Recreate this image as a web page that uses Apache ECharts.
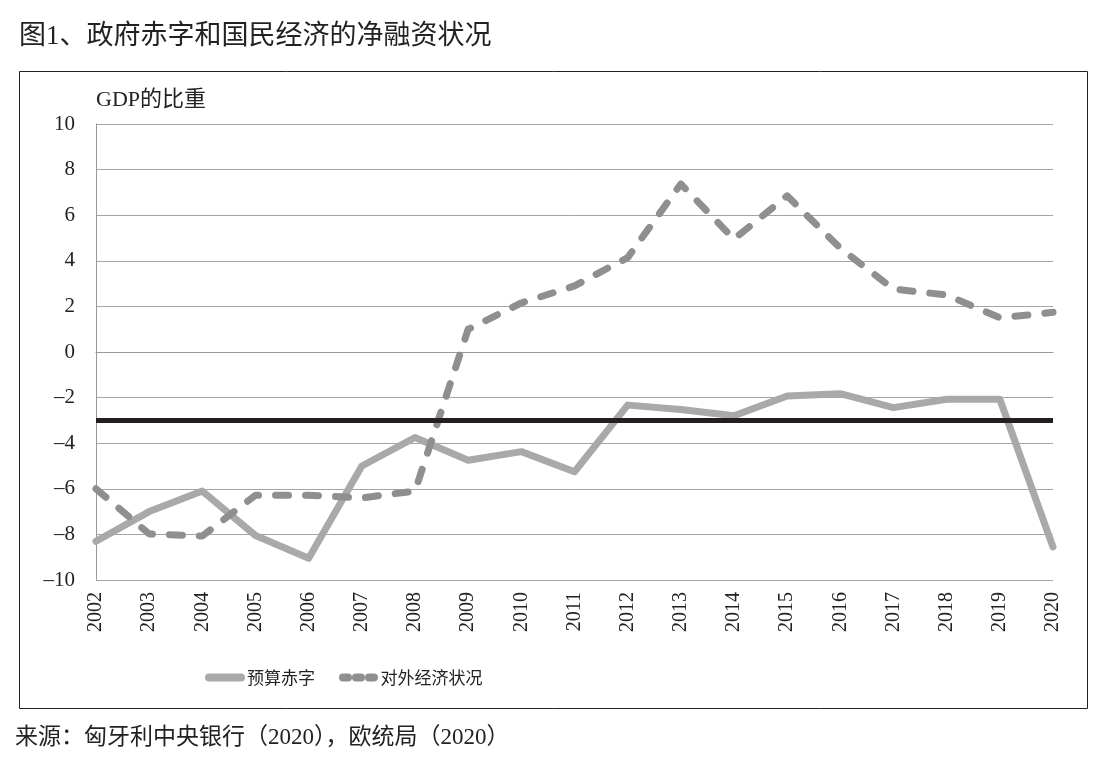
<!DOCTYPE html>
<html>
<head>
<meta charset="utf-8">
<script src="https://cdn.jsdelivr.net/npm/echarts@6/dist/echarts.min.js"></script>
<style>
  html, body { margin: 0; padding: 0; background: #fff; }
  #chart { width: 1104px; height: 771px; }
</style>
</head>
<body>
<div id="chart"></div>
<script>
// 数据
var years = ["2002", "2003", "2004", "2005", "2006", "2007", "2008", "2009", "2010", "2011",
  "2012", "2013", "2014", "2015", "2016", "2017", "2018", "2019", "2020"];
// 预算赤字
var budgetDeficit = [-8.3, -7.0, -6.1, -8.05, -9.05, -5.0, -3.75, -4.75, -4.37, -5.25,
  -2.33, -2.52, -2.8, -1.93, -1.83, -2.44, -2.07, -2.07, -8.55];
// 对外经济状况
var externalBalance = [-6.0, -7.98, -8.07, -6.28, -6.28, -6.4, -6.1, 1.0, 2.15, 2.9,
  4.14, 7.37, 4.95, 6.85, 4.55, 2.76, 2.5, 1.5, 1.74];
var thresholdLevel = -3;
var yTicks = { min: -10, max: 10, step: 2 };

var serif = "'Liberation Serif', 'DejaVu Serif', 'Noto Sans CJK SC', serif";
var cjk = "'Noto Sans CJK SC', sans-serif";

// 图例图标
var solidIcon = "path://M4,0H36A4,4 0 0 1 36,8H4A4,4 0 0 1 4,0Z";
var dashIcon = "path://M3,0H8A3,3 0 0 1 8,8H3A3,3 0 0 1 3,0Z M16,0H21A3,3 0 0 1 21,8H16A3,3 0 0 1 16,0Z M29,0H34A3,3 0 0 1 34,8H29A3,3 0 0 1 29,0Z";

var myCharts = echarts.init(document.getElementById("chart"));

var option = {
  backgroundColor: "#fff",
  animation: false,
  // 外框、标题、来源
  graphic: [
    {
      type: "rect",
      left: 17, top: 69,
      shape: { width: 1068, height: 637 },
      style: { fill: "none", stroke: "#222", lineWidth: 1 },
    },
    {
      type: "text",
      left: 19, top: 23,
      style: { text: "图1、政府赤字和国民经济的净融资状况", font: "27px " + serif, fill: "#222" },
    },
    {
      type: "text",
      left: 15, top: 726,
      style: { text: "来源：匈牙利中央银行（2020），欧统局（2020）", font: "23px " + serif, fill: "#222" },
    },
  ],
  legend: {
    left: 200,
    top: 664,
    itemWidth: 40,
    itemHeight: 8,
    itemGap: 24,
    textStyle: { fontFamily: cjk, fontSize: 17, color: "#222", padding: [0, 0, 0, -3] },
    data: [
      { name: "预算赤字", icon: solidIcon, itemStyle: { color: "#a9a9a9" } },
      { name: "对外经济状况", icon: dashIcon, itemStyle: { color: "#8f8f8f" } },
    ],
  },
  grid: { left: 96, right: 51, top: 124, bottom: 191 },
  xAxis: {
    type: "category",
    boundaryGap: false,
    data: years,
    axisLine: { lineStyle: { color: "#999", width: 1 } },
    axisTick: { show: false },
    axisLabel: { rotate: 90, fontFamily: serif, fontSize: 20, color: "#222", margin: 12 },
  },
  yAxis: {
    type: "value",
    min: yTicks.min,
    max: yTicks.max,
    interval: yTicks.step,
    name: "GDP的比重",
    nameLocation: "end",
    nameGap: 24,
    nameTextStyle: { fontFamily: serif, fontSize: 22, color: "#222", align: "left", verticalAlign: "middle" },
    axisLine: { show: true, lineStyle: { color: "#999", width: 1 } },
    axisTick: { show: false },
    splitLine: { lineStyle: { color: "#a5a5a5", width: 1 } },
    axisLabel: {
      fontFamily: serif, fontSize: 21, color: "#222", margin: 21,
      formatter: function (v) { return String(v).replace("-", "–"); },
    },
  },
  series: [
    {
      name: "预算赤字",
      type: "line",
      data: budgetDeficit,
      symbol: "none",
      z: 2,
      lineStyle: { color: "#a9a9a9", width: 7, cap: "round", join: "round" },
      itemStyle: { color: "#a9a9a9" },
      markLine: {
        silent: true,
        symbol: "none",
        label: { show: false },
        lineStyle: { color: "#231f20", width: 5, type: "solid" },
        data: [{ yAxis: thresholdLevel }],
      },
    },
    {
      name: "对外经济状况",
      type: "line",
      data: externalBalance,
      symbol: "none",
      z: 3,
      lineStyle: { color: "#8f8f8f", width: 7, type: [13, 17], cap: "round", join: "round" },
      itemStyle: { color: "#8f8f8f" },
    },
  ],
};

myCharts.setOption(option);
</script>
</body>
</html>
